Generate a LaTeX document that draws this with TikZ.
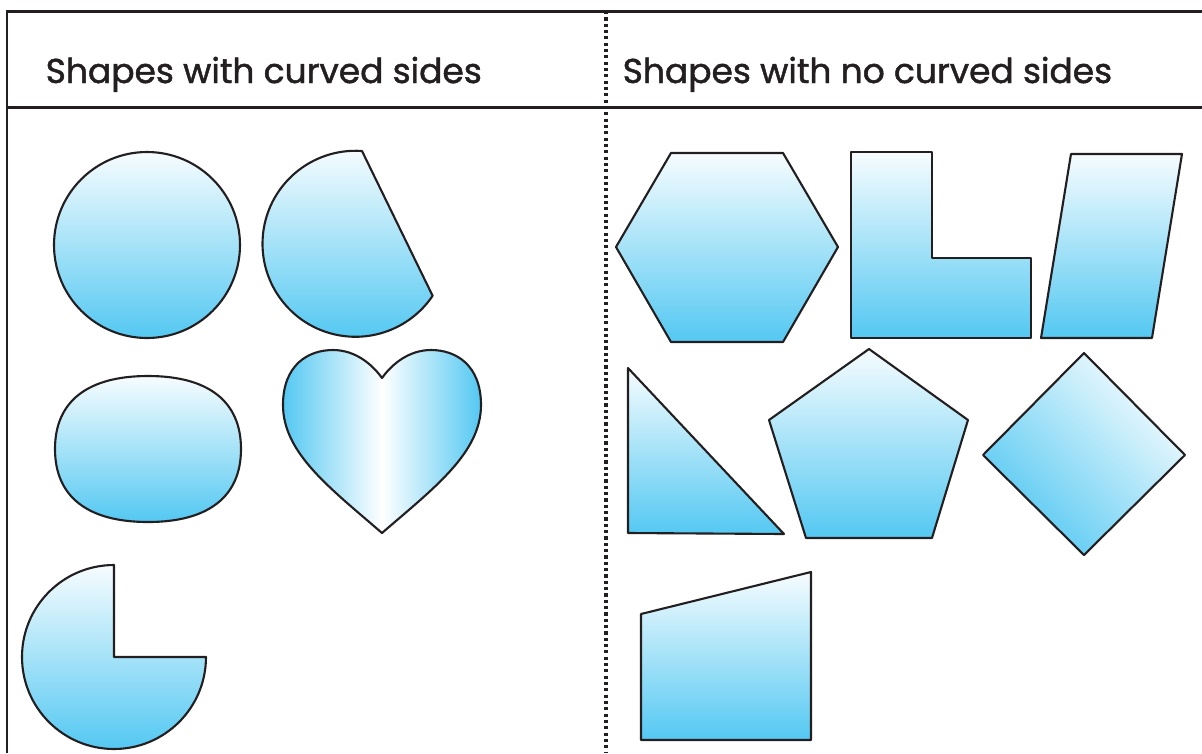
\documentclass[tikz,border=0pt]{standalone}
\usepackage{fontspec}
\setmainfont{Poppins}[FakeBold=1.4]
\usepackage{xcolor}
\usepackage{tikz}
\definecolor{shapeblue}{RGB}{84,200,242}
\definecolor{framegray}{RGB}{35,31,32}

\begin{document}
\begin{tikzpicture}[x=0.01cm,y=0.01cm,
    frameline/.style={draw=framegray,line width=0.85pt},
    blueshape/.style={draw=framegray,line width=0.6pt,line join=round,top color=white!95!shapeblue,bottom color=shapeblue},
    headtext/.style={anchor=base west,inner sep=0pt,text=framegray,font=\fontsize{9.8}{12}\selectfont}]
            \useasboundingbox (0,0) rectangle (1202,753);
            % frame
            \draw[frameline] (7,0) -- (7,742) -- (1202,742);
            \draw[frameline] (7,646) -- (1202,646);
            \draw[draw=framegray,line width=1pt,dash pattern=on 0.9pt off 0.9pt] (606,742) -- (606,0);
            \node[headtext] (lefthead) at (45,670) {Shapes with curved sides};
            \node[headtext] (righthead) at (622,670) {Shapes with no curved sides};
            % curved sides
            \draw[blueshape] (147,508) circle (93);
            \draw[blueshape] (362,602) arc[start angle=86,end angle=326,radius=93] -- cycle;
            \draw[blueshape] (241,304) .. controls (241,352) and (208,377) .. (148,377)
                .. controls (88,377) and (55,352) .. (55,304)
                .. controls (55,256) and (88,231) .. (148,231)
                .. controls (208,231) and (241,256) .. (241,304) -- cycle;
            \draw[draw=framegray,line width=0.6pt,line join=round,left color=shapeblue,right color=shapeblue,middle color=white]
                (382,220) .. controls (330,265) and (283,300) .. (283,348)
                .. controls (283,388) and (308,403) .. (333,403)
                .. controls (355,403) and (372,389) .. (382,375)
                .. controls (392,389) and (409,403) .. (431,403)
                .. controls (456,403) and (481,388) .. (481,348)
                .. controls (481,300) and (434,265) .. (382,220) -- cycle;
            \draw[blueshape] (114,96) -- (114,188) arc[start angle=90,end angle=360,radius=92] -- cycle;
            % no curved sides
            \draw[blueshape] (671,600) -- (783,600) -- (838,506) -- (783,411) -- (671,411) -- (616,506) -- cycle;
            \draw[blueshape] (851,601) -- (932,601) -- (932,495) -- (1031,495) -- (1031,415) -- (851,415) -- cycle;
            \draw[blueshape] (1071,599) -- (1182,599) -- (1152,415) -- (1041,415) -- cycle;
            \draw[blueshape] (628,385) -- (784,219) -- (628,220) -- cycle;
            \draw[blueshape] (869,404) -- (968,333) -- (932,215) -- (806,215) -- (769,333) -- cycle;
            \draw[blueshape,shading angle=-45] (1084,400) -- (1185,298) -- (1084,198) -- (983,298) -- cycle;
            \draw[blueshape] (641,139) -- (811,181) -- (811,13) -- (641,13) -- cycle;
        \end{tikzpicture}
\end{document}
